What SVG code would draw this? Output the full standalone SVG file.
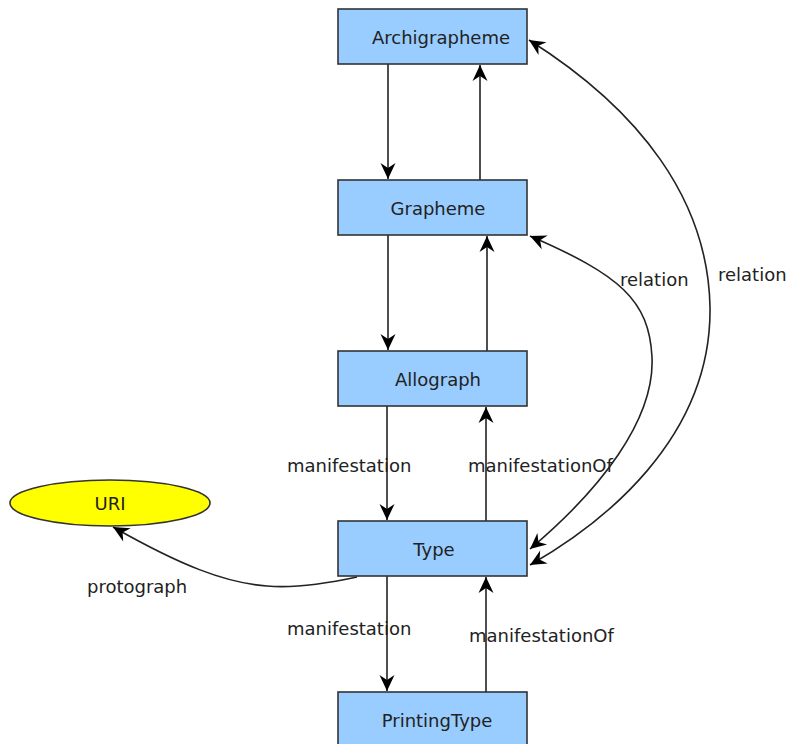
<svg xmlns="http://www.w3.org/2000/svg" width="789" height="744" viewBox="0 0 789 744">
<style>
.box{fill:#99CCFF;stroke:#333;stroke-width:1.6}
.lbl{font-family:"DejaVu Sans",sans-serif;font-size:18px;fill:#222}
.nt{font-family:"DejaVu Sans",sans-serif;font-size:18px;fill:#222;text-anchor:middle}
.e{fill:none;stroke:#222;stroke-width:1.6;marker-end:url(#ah)}
.e2{fill:none;stroke:#222;stroke-width:1.6;marker-end:url(#ah);marker-start:url(#ah)}
</style>
<defs>
<marker id="ah" viewBox="-17 -8 18 16" refX="0" refY="0" markerWidth="18" markerHeight="16" markerUnits="userSpaceOnUse" orient="auto-start-reverse">
<path d="M0,0 L-16,-7.5 L-11,0 L-16,7.5 Z" fill="#000"/>
</marker>
</defs>
<rect width="789" height="744" fill="#fff"/>
<g id="connectors">
<line class="e" x1="388" y1="64" x2="388" y2="179"/>
<line class="e" x1="480" y1="180" x2="480" y2="65"/>
<line class="e" x1="388" y1="235" x2="388" y2="350"/>
<line class="e" x1="487" y1="351" x2="487" y2="236"/>
<line class="e" x1="387" y1="406" x2="387" y2="520"/>
<line class="e" x1="486" y1="521" x2="486" y2="407"/>
<line class="e" x1="387" y1="576" x2="387" y2="691"/>
<line class="e" x1="486" y1="692" x2="486" y2="577"/>
<path class="e2" d="M530,565 C600,525 712,440 710,307 C708,200 640,110 529,40"/>
<path class="e2" d="M530,549 C600,490 655,420 652,357 C649,300 620,275 530,236"/>
<path class="e" d="M357,577 C320,585 290,588 267,586 C225,583 180,565 113,527"/>
<text class="lbl" x="287" y="472">manifestation</text>
<text class="lbl" x="468" y="472">manifestationOf</text>
<text class="lbl" x="287" y="635">manifestation</text>
<text class="lbl" x="469" y="642">manifestationOf</text>
<text class="lbl" x="87" y="593">protograph</text>
<text class="lbl" x="620" y="286">relation</text>
<text class="lbl" x="718" y="281">relation</text>
</g>
<g id="Archigrapheme"><rect class="box" x="338" y="9" width="189" height="55"/><text class="nt" x="441" y="44">Archigrapheme</text></g>
<g id="Grapheme"><rect class="box" x="338" y="180" width="189" height="55"/><text class="nt" x="438" y="215">Grapheme</text></g>
<g id="Allograph"><rect class="box" x="338" y="351" width="189" height="55"/><text class="nt" x="438" y="386">Allograph</text></g>
<g id="Type"><rect class="box" x="338" y="521" width="189" height="55"/><text class="nt" x="434" y="556">Type</text></g>
<g id="PrintingType"><rect class="box" x="338" y="692" width="189" height="60"/><text class="nt" x="437" y="727">PrintingType</text></g>
<g id="URI"><ellipse cx="110" cy="503" rx="100" ry="23" fill="#FFFF00" stroke="#333" stroke-width="1.6"/><text class="nt" x="110" y="510">URI</text></g>
</svg>
